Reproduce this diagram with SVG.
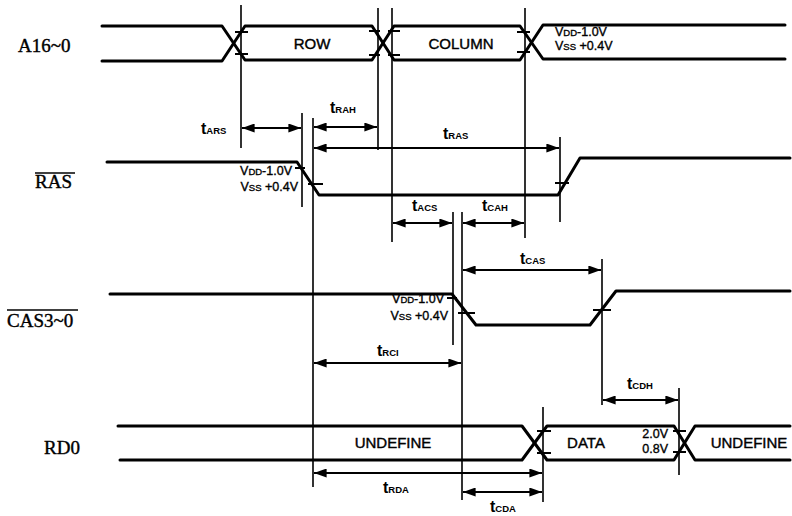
<svg xmlns="http://www.w3.org/2000/svg" width="792" height="516" viewBox="0 0 792 516">
<defs>
<style>
.w{fill:none;stroke:#000;stroke-width:3;stroke-linejoin:round;stroke-linecap:round}
.v{fill:none;stroke:#000;stroke-width:1.6}
.tk{fill:none;stroke:#000;stroke-width:2}
.a{fill:none;stroke:#000;stroke-width:2;marker-start:url(#ah);marker-end:url(#ah)}
.sig{font-family:"Liberation Serif","Times New Roman",serif;font-size:19px;fill:#000;stroke:#000;stroke-width:0.4}
.box{font-family:"Liberation Sans",Arial,sans-serif;font-size:15px;fill:#000;text-anchor:middle;stroke:#000;stroke-width:0.4}
.th{font-family:"Liberation Sans",Arial,sans-serif;font-size:12.5px;fill:#000;stroke:#000;stroke-width:0.35}
.t{font-family:"Liberation Sans",Arial,sans-serif;font-size:16px;font-weight:bold;fill:#000}
.s{font-size:9.5px;font-weight:bold}
.d{font-size:9.5px}
</style>
<marker id="ah" viewBox="0 0 14 10" refX="14" refY="5" markerWidth="14" markerHeight="9" orient="auto-start-reverse" markerUnits="userSpaceOnUse"><path d="M0,0 L14,5 L0,10 Z" fill="#000"/></marker>
</defs>
<rect width="792" height="516" fill="#fff"/>

<g id="A16">
<text class="sig" x="18" y="52">A16~0</text>
<path class="w" d="M102,26 H222 L245,60 H372 L394,26 H520 L543,59 H785"/>
<path class="w" d="M102,61 H222 L245,26 H372 L394,60 H520 L543,25 H785"/>
<path class="tk" d="M235,32 H248 M235,54 H248 M369,31 H380 M388,31 H400 M369,55 H380 M388,55 H400 M517,32 H530 M517,52 H530"/>
<text class="box" x="312" y="49">ROW</text>
<text class="box" x="461" y="49">COLUMN</text>
<text class="th" x="555" y="36">V<tspan class="d">DD</tspan>-1.0V</text>
<text class="th" x="555" y="50">V<tspan class="d">SS</tspan> +0.4V</text>
</g>

<g id="RAS">
<text class="sig" x="35" y="188">RAS</text>
<line x1="35" y1="173" x2="75" y2="173" stroke="#000" stroke-width="1.3"/>
<path class="w" d="M107,162 H297 L319,195 H558 L580,158 H790"/>
<path class="tk" d="M295,168 H305 M308,184 H323 M555,183 H569"/>
<text class="th" x="292" y="175" text-anchor="end">V<tspan class="d">DD</tspan>-1.0V</text>
<text class="th" x="298" y="191" text-anchor="end">V<tspan class="d">SS</tspan> +0.4V</text>
</g>

<g id="CAS">
<text class="sig" x="7" y="327">CAS3~0</text>
<line x1="7" y1="310" x2="78" y2="310" stroke="#000" stroke-width="1.3"/>
<path class="w" d="M110,294 H452 L476,325 H590 L616,291 H790"/>
<path class="tk" d="M447,298 H457 M458,313 H475 M593,310 H611"/>
<text class="th" x="444" y="303" text-anchor="end">V<tspan class="d">DD</tspan>-1.0V</text>
<text class="th" x="448" y="320" text-anchor="end">V<tspan class="d">SS</tspan> +0.4V</text>
</g>

<g id="RD0">
<text class="sig" x="44" y="454">RD0</text>
<path class="w" d="M118,426 H522 L547,460 H674 L695,426 H790"/>
<path class="w" d="M120,460 H522 L547,426 H674 L695,460 H790"/>
<path class="tk" d="M537,431 H551 M537,453 H551 M673,431 H686 M673,452 H686"/>
<text class="box" x="393" y="448">UNDEFINE</text>
<text class="box" x="586" y="448">DATA</text>
<text class="box" x="749" y="448">UNDEFINE</text>
<text class="th" x="668" y="438" text-anchor="end">2.0V</text>
<text class="th" x="668" y="453" text-anchor="end">0.8V</text>
</g>

<g id="connectors">
<path class="v" d="M241,5 V148 M378,8 V150 M392,8 V242 M525,8 V238 M302,113 V207 M313,118 V487 M560,137 V222 M453,212 V345 M462,212 V500 M602,259 V405 M679,388 V475 M543,407 V502"/>
<line class="a" x1="242" y1="128" x2="301" y2="128"/>
<line class="a" x1="314" y1="127" x2="377" y2="127"/>
<line class="a" x1="314" y1="148" x2="559" y2="148"/>
<line class="a" x1="393" y1="223" x2="452" y2="223"/>
<line class="a" x1="463" y1="223" x2="524" y2="223"/>
<line class="a" x1="463" y1="270" x2="601" y2="270"/>
<line class="a" x1="314" y1="363" x2="461" y2="363"/>
<line class="a" x1="603" y1="400" x2="678" y2="400"/>
<line class="a" x1="314" y1="473" x2="542" y2="473"/>
<line class="a" x1="463" y1="492" x2="542" y2="492"/>
</g>

<g id="labels">
<text class="t" x="201" y="134">t<tspan class="s">ARS</tspan></text>
<text class="t" x="330" y="113">t<tspan class="s">RAH</tspan></text>
<text class="t" x="443" y="139">t<tspan class="s">RAS</tspan></text>
<text class="t" x="412" y="211">t<tspan class="s">ACS</tspan></text>
<text class="t" x="482" y="211">t<tspan class="s">CAH</tspan></text>
<text class="t" x="520" y="264">t<tspan class="s">CAS</tspan></text>
<text class="t" x="377" y="356">t<tspan class="s">RCI</tspan></text>
<text class="t" x="627" y="389">t<tspan class="s">CDH</tspan></text>
<text class="t" x="383" y="493">t<tspan class="s">RDA</tspan></text>
<text class="t" x="490" y="512">t<tspan class="s">CDA</tspan></text>
</g>
</svg>
